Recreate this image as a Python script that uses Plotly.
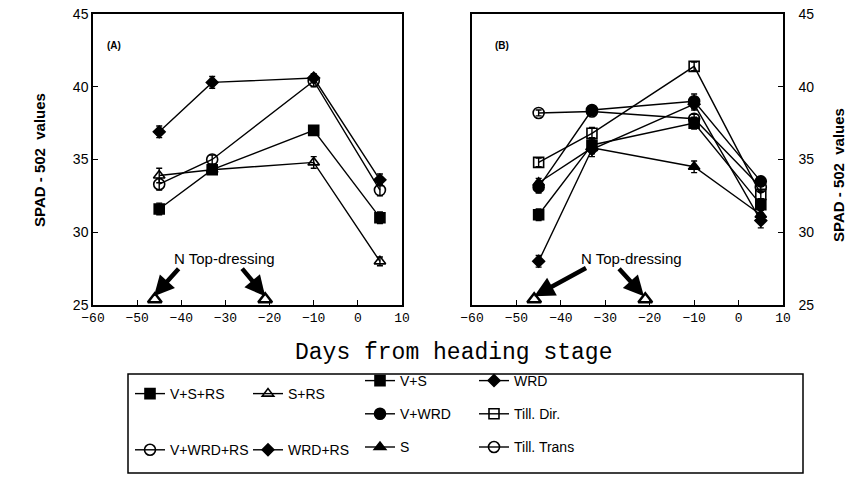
import plotly.graph_objects as go

# ---- data ----
days = [-45, -33, -10, 5]
topdress_days = [-46, -21]

# Panel A
a_names = ["V+S+RS", "V+WRD+RS", "S+RS", "WRD+RS"]
a_vsrs = [31.6, 34.3, 37.0, 31.0]
a_vwrdrs = [33.3, 35.0, 40.4, 32.9]
a_srs = [33.9, 34.3, 34.8, 28.0]
a_wrdrs = [36.9, 40.3, 40.6, 33.6]
a_err_vsrs = [0.4, 0.3, 0.3, 0.4]
a_err_vwrdrs = [0.4, 0.3, 0.4, 0.4]
a_err_srs = [0.5, 0.3, 0.4, 0.3]
a_err_wrdrs = [0.4, 0.4, 0.3, 0.4]

# Panel B
b_names = ["V+S", "V+WRD", "S", "WRD", "Till. Dir.", "Till. Trans"]
b_vs = [31.2, 36.0, 37.5, 31.9]
b_vwrd = [33.1, 38.4, 39.0, 33.5]
b_s = [33.4, 35.8, 34.5, 31.2]
b_wrd = [28.0, 35.7, 38.8, 30.8]
b_tdir = [34.8, 36.8, 41.4, 32.6]
b_ttrans = [38.2, 38.3, 37.8, 33.1]
b_err_vs = [0.4, 0.5, 0.4, 0.4]
b_err_vwrd = [0.4, 0.2, 0.5, 0.3]
b_err_s = [0.3, 0.4, 0.4, 0.3]
b_err_wrd = [0.4, 0.5, 0.4, 0.5]
b_err_tdir = [0.3, 0.4, 0.3, 0.3]
b_err_ttrans = [0.2, 0.2, 0.3, 0.3]

x_ticks = [-60, -50, -40, -30, -20, -10, 0, 10]
y_ticks = [25, 30, 35, 40, 45]

fig = go.Figure()


def add(x, y, err, name, symbol, size, xa, ya, legend, group):
    fig.add_trace(go.Scatter(
        x=x, y=y, name=name, mode="lines+markers",
        xaxis=xa, yaxis=ya, legend=legend, legendgroup=group,
        line=dict(color="black", width=1.4),
        marker=dict(symbol=symbol, size=size, color="black",
                    line=dict(color="black", width=1.6)),
        error_y=dict(type="data", array=err, color="black", thickness=1.4, width=3),
    ))


add(days, a_vsrs, a_err_vsrs, a_names[0], "square", 10, "x", "y", "legend", "g1")
add(days, a_vwrdrs, a_err_vwrdrs, a_names[1], "circle-open", 11, "x", "y", "legend", "g2")
add(days, a_srs, a_err_srs, a_names[2], "triangle-up-open", 10, "x", "y", "legend2", "g3")
add(days, a_wrdrs, a_err_wrdrs, a_names[3], "diamond", 9, "x", "y", "legend2", "g4")

add(days, b_vs, b_err_vs, b_names[0], "square", 10, "x2", "y2", "legend3", "g5")
add(days, b_vwrd, b_err_vwrd, b_names[1], "circle", 11, "x2", "y2", "legend3", "g6")
add(days, b_s, b_err_s, b_names[2], "triangle-up", 10, "x2", "y2", "legend3", "g7")
add(days, b_wrd, b_err_wrd, b_names[3], "diamond", 9, "x2", "y2", "legend4", "g8")
add(days, b_tdir, b_err_tdir, b_names[4], "square-open", 10, "x2", "y2", "legend4", "g9")
add(days, b_ttrans, b_err_ttrans, b_names[5], "circle-open", 11, "x2", "y2", "legend4", "g10")

# top-dressing markers at the x axis
for xa, ya in [("x", "y"), ("x2", "y2")]:
    fig.add_trace(go.Scatter(
        x=topdress_days, y=[25.4, 25.4], mode="markers", xaxis=xa, yaxis=ya,
        showlegend=False, cliponaxis=False,
        marker=dict(symbol="triangle-up-open", size=12, color="black",
                    line=dict(color="black", width=2.5)),
    ))

tick_font_y = dict(family="Liberation Sans, Arial", size=14, color="black")
tick_font_x = dict(family="Liberation Mono, Courier New", size=13, color="black")

common_x = dict(range=[-60, 10], tickvals=x_ticks, ticks="inside", ticklen=5,
                showline=True, linecolor="black", linewidth=1.5, mirror=True,
                showgrid=False, zeroline=False, tickfont=tick_font_x, tickcolor="black",
                automargin=False)
common_y = dict(range=[25, 45], tickvals=y_ticks, ticks="inside", ticklen=5,
                showline=True, linecolor="black", linewidth=1.5, mirror=True,
                showgrid=False, zeroline=False, tickfont=tick_font_y, tickcolor="black",
                automargin=False)

fig.update_layout(
    width=850, height=482,
    margin=dict(l=0, r=0, t=0, b=0, autoexpand=False),
    paper_bgcolor="white", plot_bgcolor="white",
    xaxis=dict(domain=[93 / 850, 402 / 850], anchor="y", **common_x),
    yaxis=dict(domain=[1 - 305 / 482, 1 - 14 / 482], anchor="x", **common_y),
    xaxis2=dict(domain=[472 / 850, 783 / 850], anchor="y2", **common_x),
    yaxis2=dict(domain=[1 - 305 / 482, 1 - 14 / 482], anchor="x2", side="right",
                ticklabelstandoff=11, **common_y),
)

leg_common = dict(bgcolor="rgba(0,0,0,0)", borderwidth=0, xanchor="left", yanchor="top",
                  font=dict(family="Liberation Sans, Arial", size=14, color="black"),
                  orientation="v")
fig.update_layout(
    legend=dict(x=130 / 850, y=1 - 378 / 482, tracegroupgap=35, **leg_common),
    legend2=dict(x=248 / 850, y=1 - 378 / 482, tracegroupgap=35, **leg_common),
    legend3=dict(x=360 / 850, y=1 - 365 / 482, tracegroupgap=12, **leg_common),
    legend4=dict(x=474 / 850, y=1 - 365 / 482, tracegroupgap=12, **leg_common),
)

# legend frame
fig.add_shape(type="rect", xref="paper", yref="paper",
              x0=128 / 850, x1=803 / 850, y0=1 - 473 / 482, y1=1 - 374 / 482,
              line=dict(color="black", width=1.5))

ann = []
title_font = dict(family="Liberation Sans, Arial", size=15, color="black")


def pann(text, x, y, font, angle=0):
    ann.append(dict(text=text, x=x / 850, y=1 - y / 482, xref="paper", yref="paper",
                    xanchor="center", yanchor="middle", textangle=angle,
                    showarrow=False, font=font))


pann("<b>SPAD - 502  values</b>", 40, 160, title_font, -90)
pann("<b>SPAD - 502  values</b>", 838, 175, title_font, -90)
pann("Days from heading stage", 453, 353,
     dict(family="Liberation Mono, Courier New", size=23, color="black"))
pann("<b>(A)</b>", 114, 45, dict(family="Liberation Sans, Arial", size=10, color="black"))
pann("<b>(B)</b>", 502, 45, dict(family="Liberation Sans, Arial", size=10, color="black"))
pann("N Top-dressing", 224, 258, dict(family="Liberation Sans, Arial", size=15, color="black"))
pann("N Top-dressing", 631, 258, dict(family="Liberation Sans, Arial", size=15, color="black"))

# arrows (tail -> tip) in data coordinates
arrows = [("x", "y", -40.3, 27.6, -46.2, 25.6), ("x", "y", -26.5, 27.6, -21.0, 25.6),
          ("x2", "y2", -34.0, 27.6, -46.0, 25.6), ("x2", "y2", -27.2, 27.6, -21.3, 25.6)]
for xr, yr, tx, ty, hx, hy in arrows:
    ann.append(dict(x=hx, y=hy, ax=tx, ay=ty, xref=xr, yref=yr, axref=xr, ayref=yr,
                    showarrow=True, arrowhead=2, arrowsize=0.9, arrowwidth=4.5,
                    arrowcolor="black", text=""))
fig.update_layout(annotations=ann)

fig.write_html("out.html")
